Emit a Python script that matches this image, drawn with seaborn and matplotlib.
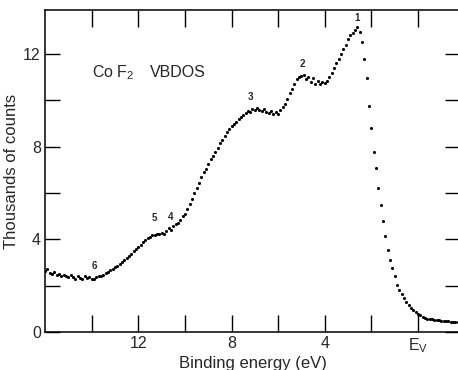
import numpy as np
import pandas as pd
import seaborn as sns
import matplotlib.pyplot as plt

sns.set_style("ticks")
plt.rcParams['font.family'] = ['Liberation Sans', 'DejaVu Sans']
plt.rcParams['mathtext.fontset'] = 'custom'
plt.rcParams['mathtext.rm'] = 'Liberation Sans'

energy = [16.0, 15.9, 15.8, 15.7, 15.6, 15.5, 15.4, 15.3, 15.2, 15.1,
          15.0, 14.9, 14.8, 14.7, 14.6, 14.5, 14.4, 14.3, 14.2, 14.1,
          14.0, 13.9, 13.8, 13.7, 13.6, 13.5, 13.4, 13.3, 13.2, 13.1,
          13.0, 12.9, 12.8, 12.7, 12.6, 12.5, 12.4, 12.3, 12.2, 12.1,
          12.0, 11.9, 11.8, 11.7, 11.6, 11.5, 11.4, 11.3, 11.2, 11.1,
          11.0, 10.9, 10.8, 10.7, 10.6, 10.5, 10.4, 10.3, 10.2, 10.1,
          10.0, 9.9, 9.8, 9.7, 9.6, 9.5, 9.4, 9.3, 9.2, 9.1,
          9.0, 8.9, 8.8, 8.7, 8.6, 8.5, 8.4, 8.3, 8.2, 8.1,
          8.0, 7.9, 7.8, 7.7, 7.6, 7.5, 7.4, 7.3, 7.2, 7.1,
          7.0, 6.9, 6.8, 6.7, 6.6, 6.5, 6.4, 6.3, 6.2, 6.1,
          6.0, 5.9, 5.8, 5.7, 5.6, 5.5, 5.4, 5.3, 5.2, 5.1,
          5.0, 4.9, 4.8, 4.7, 4.6, 4.5, 4.4, 4.3, 4.2, 4.1,
          4.0, 3.9, 3.8, 3.7, 3.6, 3.5, 3.4, 3.3, 3.2, 3.1,
          3.0, 2.9, 2.8, 2.7, 2.6, 2.5, 2.4, 2.3, 2.2, 2.1,
          2.0, 1.9, 1.8, 1.7, 1.6, 1.5, 1.4, 1.3, 1.2, 1.1,
          1.0, 0.9, 0.8, 0.7, 0.6, 0.5, 0.4, 0.3, 0.2, 0.1,
          0.0, -0.1, -0.2, -0.3, -0.4, -0.5, -0.6, -0.7, -0.8, -0.9,
          -1.0, -1.1, -1.2, -1.3, -1.4, -1.5, -1.6, -1.7]

# thousands of counts
counts = [2.62, 2.70, 2.55, 2.50, 2.58, 2.45, 2.52, 2.40, 2.48, 2.42,
          2.36, 2.45, 2.38, 2.30, 2.42, 2.35, 2.28, 2.40, 2.32, 2.36,
          2.27, 2.30, 2.36, 2.42, 2.40, 2.48, 2.55, 2.60, 2.66, 2.72,
          2.80, 2.86, 2.95, 3.02, 3.10, 3.18, 3.28, 3.38, 3.48, 3.58,
          3.66, 3.76, 3.88, 3.98, 4.06, 4.12, 4.18, 4.20, 4.25, 4.22,
          4.28, 4.22, 4.35, 4.50, 4.42, 4.58, 4.65, 4.72, 4.85, 5.00,
          5.10, 5.30, 5.52, 5.75, 5.98, 6.20, 6.45, 6.70, 6.90, 7.05,
          7.25, 7.45, 7.60, 7.78, 7.95, 8.15, 8.30, 8.45, 8.62, 8.78,
          8.90, 9.00, 9.08, 9.20, 9.28, 9.35, 9.45, 9.55, 9.50, 9.62,
          9.58, 9.65, 9.60, 9.55, 9.62, 9.50, 9.45, 9.55, 9.40, 9.50,
          9.42, 9.60, 9.70, 9.85, 10.05, 10.30, 10.50, 10.72, 10.90, 11.02,
          11.05, 11.08, 10.90, 11.00, 10.80, 10.95, 10.72, 10.85, 10.70, 10.78,
          10.75, 10.85, 11.00, 11.20, 11.40, 11.60, 11.80, 12.00, 12.20, 12.40,
          12.65, 12.80, 12.92, 13.05, 13.15, 12.95, 12.50, 11.80, 10.95, 9.75,
          8.80, 7.75, 7.10, 6.22, 5.48, 4.78, 4.15, 3.55, 3.12, 2.78,
          2.42, 2.05, 1.82, 1.64, 1.45, 1.30, 1.18, 1.05, 0.95, 0.86,
          0.78, 0.72, 0.66, 0.62, 0.58, 0.56, 0.54, 0.52, 0.51, 0.50,
          0.49, 0.48, 0.47, 0.46, 0.45, 0.45, 0.44, 0.44]

# numbered features
peak_labels = ['1', '2', '3', '4', '5', '6']
peak_x = [2.62, 4.94, 7.17, 10.6, 11.29, 13.9]
peak_y = [13.55, 11.55, 10.15, 4.95, 4.9, 2.85]

df = pd.DataFrame({'energy': energy, 'counts': counts})

fig = plt.figure(figsize=(4.58, 3.70), dpi=100)
ax = fig.add_axes([45 / 458, 38 / 370, 415 / 458, 322 / 370])

sns.scatterplot(data=df, x='energy', y='counts', ax=ax, color='black',
                s=5, linewidth=0, legend=False)

ax.set_xlim(16, -1.8)
ax.set_ylim(0, 13.9)

ax.set_xticks([14, 12, 10, 8, 6, 4, 2, 0])
ax.set_xticklabels(['', '12', '', '8', '', '4', '', r'E$_{\rm V}$'])
ax.set_yticks([0, 2, 4, 6, 8, 10, 12])
ax.set_yticklabels(['0', '', '4', '', '8', '', '12'])
ax.tick_params(direction='in', length=12, width=1, top=True, right=True,
               labelsize=11.5, pad=3, color='black')
ax.tick_params(axis='y', length=11)

for side in ['left', 'bottom', 'top', 'right']:
    ax.spines[side].set_linewidth(1.1)
    ax.spines[side].set_color('black')

ax.set_xlabel('Binding energy (eV)', fontsize=12, labelpad=1)
ax.set_ylabel('Thousands of counts', fontsize=12, labelpad=3)

ax.text(14.0, 11.2, r'Co F$_2$', fontsize=11.5, ha='left', va='center')
ax.text(11.5, 11.2, 'VBDOS', fontsize=11.5, ha='left', va='center')

for lab, px, py in zip(peak_labels, peak_x, peak_y):
    ax.text(px, py, lab, fontsize=7, fontweight='bold', ha='center', va='center')

fig.savefig('out.png', dpi=100)
